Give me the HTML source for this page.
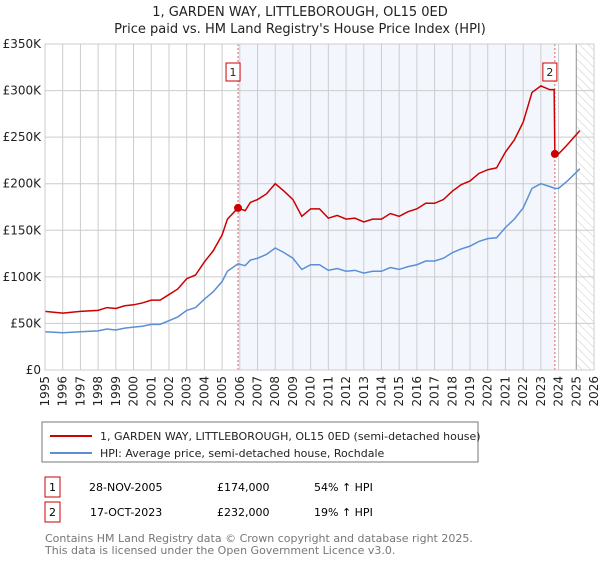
<!DOCTYPE html>
<html><head><meta charset="utf-8"><style>
body{margin:0;background:#fff;font-family:"Liberation Sans","DejaVu Sans",sans-serif;}
svg text{font-family:"DejaVu Sans","Liberation Sans",sans-serif;}
</style></head><body>
<svg id="chart" width="600" height="560" xmlns="http://www.w3.org/2000/svg">
<text x="300" y="16" text-anchor="middle" font-size="13" fill="#222">1, GARDEN WAY, LITTLEBOROUGH, OL15 0ED</text>
<text x="300" y="33" text-anchor="middle" font-size="13" fill="#222">Price paid vs. HM Land Registry's House Price Index (HPI)</text>
<g id="plot"></g>
<rect x="42" y="422" width="436" height="40" fill="#fff" stroke="#777"/>
<line x1="50" y1="436" x2="92" y2="436" stroke="#cc0000" stroke-width="2"/>
<text x="100" y="440" font-size="11" fill="#222">1, GARDEN WAY, LITTLEBOROUGH, OL15 0ED (semi-detached house)</text>
<line x1="50" y1="453" x2="92" y2="453" stroke="#5b8fd4" stroke-width="2"/>
<text x="100" y="457" font-size="11" fill="#222">HPI: Average price, semi-detached house, Rochdale</text>
<g>
<rect x="45" y="477" width="15" height="20" fill="#fff" stroke="#cc0000"/>
<text x="52.5" y="491" text-anchor="middle" font-size="11">1</text>
<text x="89" y="491" font-size="11">28-NOV-2005</text>
<text x="217" y="491" font-size="11">£174,000</text>
<text x="314" y="491" font-size="11">54% ↑ HPI</text>
</g>
<g>
<rect x="45" y="502" width="15" height="20" fill="#fff" stroke="#cc0000"/>
<text x="52.5" y="516" text-anchor="middle" font-size="11">2</text>
<text x="90" y="516" font-size="11">17-OCT-2023</text>
<text x="217" y="516" font-size="11">£232,000</text>
<text x="314" y="516" font-size="11">19% ↑ HPI</text>
</g>
<text x="45" y="542" font-size="11" fill="#777">Contains HM Land Registry data © Crown copyright and database right 2025.</text>
<text x="45" y="554" font-size="11" fill="#777">This data is licensed under the Open Government Licence v3.0.</text>
</svg>
<script>
const hpiYears=[1995,1996,1997,1998,1998.5,1999,1999.5,2000,2000.5,2001,2001.5,2002,2002.5,2003,2003.5,2004,2004.5,2005,2005.3,2005.9,2006.3,2006.6,2007,2007.5,2008,2008.5,2009,2009.5,2010,2010.5,2011,2011.5,2012,2012.5,2013,2013.5,2014,2014.5,2015,2015.5,2016,2016.5,2017,2017.5,2018,2018.5,2019,2019.5,2020,2020.5,2021,2021.5,2022,2022.5,2023,2023.5,2023.79,2024,2024.5,2025.2];
const hpiValues=[41,40,41,42,44,43,45,46,47,49,49,53,57,64,67,76,84,95,106,114,112,118,120,124,131,126,120,108,113,113,107,109,106,107,104,106,106,110,108,111,113,117,117,120,126,130,133,138,141,142,153,162,174,195,200,197,195,195,203,216];
const priceYears=[1995,1996,1997,1998,1998.5,1999,1999.5,2000,2000.5,2001,2001.5,2002,2002.5,2003,2003.5,2004,2004.5,2005,2005.3,2005.9,2006.3,2006.6,2007,2007.5,2008,2008.5,2009,2009.5,2010,2010.5,2011,2011.5,2012,2012.5,2013,2013.5,2014,2014.5,2015,2015.5,2016,2016.5,2017,2017.5,2018,2018.5,2019,2019.5,2020,2020.5,2021,2021.5,2022,2022.5,2023,2023.5,2023.75,2023.79,2024,2024.5,2025.2];
const priceValues=[63,61,63,64,67,66,69,70,72,75,75,81,87,98,102,116,128,145,162,174,171,180,183,189,200,192,183,165,173,173,163,166,162,163,159,162,162,168,165,170,173,179,179,183,192,199,203,211,215,217,234,247,266,298,305,301,301,232,232,242,257];
const saleYears=[2005.9,2023.79];
const saleValues=[174,232];
const saleLabels=["1","2"];
const yTicks=[0,50,100,150,200,250,300,350];
const yTickLabels=["£0","£50K","£100K","£150K","£200K","£250K","£300K","£350K"];
const xTicks=[1995,1996,1997,1998,1999,2000,2001,2002,2003,2004,2005,2006,2007,2008,2009,2010,2011,2012,2013,2014,2015,2016,2017,2018,2019,2020,2021,2022,2023,2024,2025,2026];

const L=45,R=594,T=44,B=370,x0=1995,x1=2026,yMax=350;
const X=v=>L+(v-x0)/(x1-x0)*(R-L);
const Y=v=>B-v/yMax*(B-T);
const NS="http://www.w3.org/2000/svg";
const g=document.getElementById('plot');
function mk(tag,attrs){const e=document.createElementNS(NS,tag);for(const k in attrs)e.setAttribute(k,attrs[k]);g.appendChild(e);return e;}
let e;
e=mk('rect',{x:X(saleYears[0]),y:T,width:X(saleYears[1])-X(saleYears[0]),height:B-T,fill:'#eef3fc',opacity:0.7});


// hatch
const defs=document.createElementNS(NS,'defs');
defs.innerHTML='<pattern id="hatch" width="6" height="6" patternUnits="userSpaceOnUse" patternTransform="rotate(-45)"><line x1="0" y1="0" x2="0" y2="6" stroke="#ccc" stroke-width="1"/></pattern>';
g.appendChild(defs);
e=mk('rect',{x:X(2025.0),y:T,width:R-X(2025.0),height:B-T,fill:'url(#hatch)'});


xTicks.forEach(t=>{
 e=mk('line',{x1:X(t),x2:X(t),y1:T,y2:B,stroke:'#ccc','stroke-width':1});
 
 
 e=mk('text',{x:X(t),y:0,'font-size':12,fill:'#222','text-anchor':'end',transform:`translate(${X(t)+4},${B+6}) rotate(-90) translate(${-X(t)},0)`});
 e.textContent=t;
 
 
});
yTicks.forEach((t,i)=>{
 e=mk('line',{x1:L,x2:R,y1:Y(t),y2:Y(t),stroke:'#ccc','stroke-width':1});
 
 
 e=mk('text',{x:L-4,y:Y(t)+4,'font-size':12,fill:'#222','text-anchor':'end'});
 e.textContent=yTickLabels[i];
 
 
});
e=mk('line',{x1:X(2025.0),x2:X(2025.0),y1:T,y2:B,stroke:'#999','stroke-width':1});


saleYears.forEach((s,i)=>{
 e=mk('line',{x1:X(s),x2:X(s),y1:T,y2:B,stroke:'#e06060','stroke-width':1,'stroke-dasharray':'2,2'});
 
 
});
e=mk('polyline',{points:hpiYears.map((y,i)=>X(y)+','+Y(hpiValues[i])).join(' '),fill:'none',stroke:'#5b8fd4','stroke-width':1.5});


e=mk('polyline',{points:priceYears.map((y,i)=>X(y)+','+Y(priceValues[i])).join(' '),fill:'none',stroke:'#cc0000','stroke-width':1.5});


saleYears.forEach((s,i)=>{
 e=mk('circle',{cx:X(s),cy:Y(saleValues[i]),r:4,fill:'#cc0000'});
 
 
 e=mk('rect',{x:X(s)-10+ (i==0?-2:-2),y:63,width:14,height:18,fill:'#fff',stroke:'#cc0000'});
 
 
 e=mk('text',{x:X(s)-5,y:76,'font-size':11,'text-anchor':'middle',fill:'#222'});
 e.textContent=saleLabels[i];
 
 
});
e=mk('rect',{x:L,y:T,width:R-L,height:B-T,fill:'none',stroke:'#ccc'});


</script>
</body></html>
